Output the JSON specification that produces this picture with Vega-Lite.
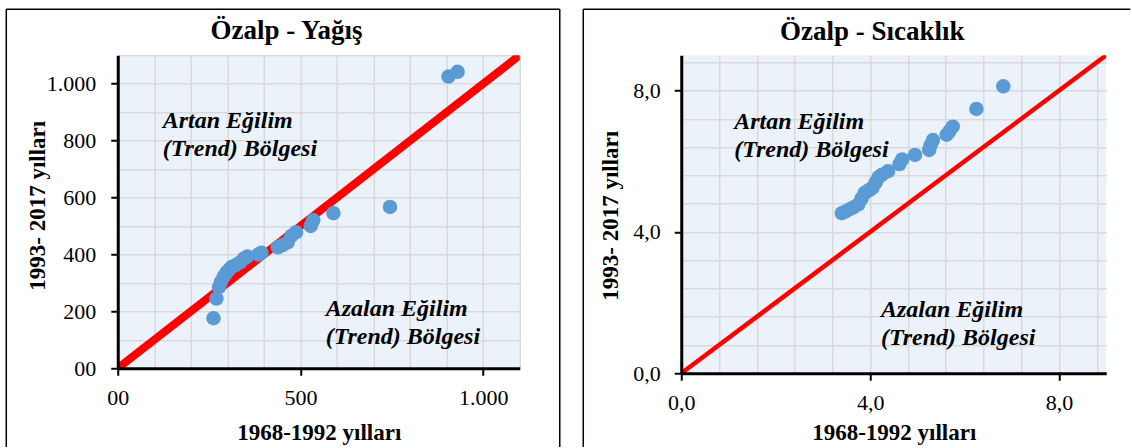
{
  "$schema": "https://vega.github.io/schema/vega-lite/v6.json",
  "background": "white",
  "padding": {"left": 4.75, "top": 8.25, "right": 0, "bottom": 0},
  "spacing": 21.5,
  "config": {
    "view": {"stroke": null, "fill": "#ecf2fa"},
    "font": "Liberation Serif",
    "axis": {"labelOverlap": false, "labelFlush": false}
  },
  "hconcat": [
    {
      "width": 402,
      "height": 313,
      "resolve": {"axis": {"x": "independent", "y": "independent"}},
      "layer": [
        {
          "data": {"values": [{"x": 0, "y": 0}, {"x": 1100, "y": 1100}]},
          "mark": {"type": "line", "color": "#ff0000", "strokeWidth": 8, "clip": true},
          "encoding": {
            "x": {
              "field": "x", "type": "quantitative",
              "scale": {"domain": [0, 1100], "nice": false, "zero": false},
              "axis": {
                "orient": "bottom", "zindex": 1,
                "values": [0, 500, 1000],
                "title": "1968-1992 yılları",
                "grid": false,
                "domainColor": "#000000", "domainWidth": 3,
                "tickColor": "#000000", "tickWidth": 2, "tickSize": 7,
                "labelExpr": "datum.value === 0 ? '00' : replace(format(datum.value, ','), ',', '.')",
                "labelFont": "Liberation Serif", "labelFontSize": 22, "labelColor": "#000000",
                "labelPadding": 12,
                "titleFont": "Liberation Serif", "titleFontSize": 23, "titleFontWeight": "bold",
                "titleColor": "#000000", "titlePadding": 13
              }
            },
            "y": {
              "field": "y", "type": "quantitative",
              "scale": {"domain": [0, 1100], "nice": false, "zero": false},
              "axis": {
                "orient": "left", "zindex": 1,
                "values": [0, 200, 400, 600, 800, 1000],
                "title": "1993- 2017 yılları",
                "grid": false,
                "domainColor": "#000000", "domainWidth": 3,
                "tickColor": "#000000", "tickWidth": 2, "tickSize": 7,
                "labelExpr": "datum.value === 0 ? '00' : replace(format(datum.value, ','), ',', '.')",
                "labelFont": "Liberation Serif", "labelFontSize": 22, "labelColor": "#000000",
                "labelPadding": 15,
                "titleFont": "Liberation Serif", "titleFontSize": 23, "titleFontWeight": "bold",
                "titleColor": "#000000", "titleAngle": 270, "titleAlign": "center", "titleBaseline": "middle",
                "titleX": -80, "titleY": 150
              }
            }
          }
        },
        {
          "data": {"values": [
            {"x": 262, "y": 176}, {"x": 270, "y": 245}, {"x": 277, "y": 285}, {"x": 282, "y": 303},
            {"x": 290, "y": 322}, {"x": 298, "y": 337}, {"x": 305, "y": 347}, {"x": 312, "y": 356},
            {"x": 322, "y": 362}, {"x": 335, "y": 372}, {"x": 345, "y": 385}, {"x": 355, "y": 393},
            {"x": 385, "y": 400}, {"x": 393, "y": 406}, {"x": 438, "y": 425}, {"x": 450, "y": 432},
            {"x": 465, "y": 442}, {"x": 475, "y": 465}, {"x": 488, "y": 478}, {"x": 528, "y": 500},
            {"x": 535, "y": 520}, {"x": 590, "y": 545}, {"x": 745, "y": 567}, {"x": 905, "y": 1025},
            {"x": 930, "y": 1042}
          ]},
          "mark": {"type": "circle", "size": 210, "color": "#5b9bd5", "opacity": 1},
          "encoding": {
            "x": {"field": "x", "type": "quantitative", "scale": {"domain": [0, 1100], "nice": false, "zero": false},
              "axis": {"orient": "bottom", "zindex": 0, "values": [100, 200, 300, 400, 500, 600, 700, 800, 900, 1000, 1100], "grid": true, "gridColor": "#d9d9d9", "gridWidth": 1.5, "labels": false, "ticks": false, "domain": false, "title": null}},
            "y": {"field": "y", "type": "quantitative", "scale": {"domain": [0, 1100], "nice": false, "zero": false},
              "axis": {"orient": "left", "zindex": 0, "values": [100, 200, 300, 400, 500, 600, 700, 800, 900, 1000, 1100], "grid": true, "gridColor": "#d9d9d9", "gridWidth": 1.5, "labels": false, "ticks": false, "domain": false, "title": null}}
          }
        },
        {
          "data": {"values": [{}]},
          "mark": {"type": "text", "align": "left", "baseline": "middle", "font": "Liberation Serif", "fontSize": 24, "fontWeight": "bold", "fontStyle": "italic", "lineBreak": "\n", "lineHeight": 28, "color": "#000000"},
          "encoding": {
            "x": {"datum": 123, "type": "quantitative", "scale": {"domain": [0, 1100], "nice": false, "zero": false}, "axis": null},
            "y": {"datum": 868, "type": "quantitative", "scale": {"domain": [0, 1100], "nice": false, "zero": false}, "axis": null},
            "text": {"value": "Artan Eğilim\n(Trend) Bölgesi"}
          }
        },
        {
          "data": {"values": [{}]},
          "mark": {"type": "text", "align": "left", "baseline": "middle", "font": "Liberation Serif", "fontSize": 24, "fontWeight": "bold", "fontStyle": "italic", "lineBreak": "\n", "lineHeight": 28, "color": "#000000"},
          "encoding": {
            "x": {"datum": 569, "type": "quantitative", "scale": {"domain": [0, 1100], "nice": false, "zero": false}, "axis": null},
            "y": {"datum": 209, "type": "quantitative", "scale": {"domain": [0, 1100], "nice": false, "zero": false}, "axis": null},
            "text": {"value": "Azalan Eğilim\n(Trend) Bölgesi"}
          }
        },
        {
          "data": {"values": [{}]},
          "mark": {"type": "text", "align": "center", "baseline": "middle", "font": "Liberation Serif", "fontSize": 27, "fontWeight": "bold", "color": "#000000"},
          "encoding": {
            "x": {"datum": 462, "type": "quantitative", "scale": {"domain": [0, 1100], "nice": false, "zero": false}, "axis": null},
            "y": {"datum": 1184, "type": "quantitative", "scale": {"domain": [0, 1100], "nice": false, "zero": false}, "axis": null},
            "text": {"value": "Özalp - Yağış"}
          }
        },
        {
          "data": {"values": [{}]},
          "mark": {"type": "rule", "color": "#000000", "strokeWidth": 1.5},
          "encoding": {
            "x": {"datum": -305, "type": "quantitative", "scale": {"domain": [0, 1100], "nice": false, "zero": false}, "axis": null},
            "y": {"datum": 1261.7, "type": "quantitative", "scale": {"domain": [0, 1100], "nice": false, "zero": false}, "axis": null},
            "y2": {"datum": -276.8}
          }
        },
        {
          "data": {"values": [{}]},
          "mark": {"type": "rule", "color": "#000000", "strokeWidth": 1.5},
          "encoding": {
            "x": {"datum": 1209.5, "type": "quantitative", "scale": {"domain": [0, 1100], "nice": false, "zero": false}, "axis": null},
            "y": {"datum": 1261.7, "type": "quantitative", "scale": {"domain": [0, 1100], "nice": false, "zero": false}, "axis": null},
            "y2": {"datum": -276.8}
          }
        },
        {
          "data": {"values": [{}]},
          "mark": {"type": "rule", "color": "#000000", "strokeWidth": 1.5},
          "encoding": {
            "x": {"datum": -305, "type": "quantitative", "scale": {"domain": [0, 1100], "nice": false, "zero": false}, "axis": null},
            "x2": {"datum": 1209.5},
            "y": {"datum": 1261.7, "type": "quantitative", "scale": {"domain": [0, 1100], "nice": false, "zero": false}, "axis": null}
          }
        }
      ]
    },
    {
      "width": 425,
      "height": 318,
      "resolve": {"axis": {"x": "independent", "y": "independent"}},
      "layer": [
        {
          "data": {"values": [{"x": 0, "y": 0}, {"x": 9, "y": 9}]},
          "mark": {"type": "line", "color": "#ff0000", "strokeWidth": 4.5, "clip": true},
          "encoding": {
            "x": {
              "field": "x", "type": "quantitative",
              "scale": {"domain": [0, 9], "nice": false, "zero": false},
              "axis": {
                "orient": "bottom", "zindex": 1,
                "values": [0, 4, 8],
                "title": "1968-1992 yılları",
                "grid": false,
                "domainColor": "#000000", "domainWidth": 3,
                "tickColor": "#000000", "tickWidth": 2, "tickSize": 7,
                "labelExpr": "replace(format(datum.value, '.1f'), '.', ',')",
                "labelFont": "Liberation Serif", "labelFontSize": 22, "labelColor": "#000000",
                "labelPadding": 12,
                "titleFont": "Liberation Serif", "titleFontSize": 23, "titleFontWeight": "bold",
                "titleColor": "#000000", "titlePadding": 8
              }
            },
            "y": {
              "field": "y", "type": "quantitative",
              "scale": {"domain": [0, 9], "nice": false, "zero": false},
              "axis": {
                "orient": "left", "zindex": 1,
                "values": [0, 4, 8],
                "title": "1993- 2017 yılları",
                "grid": false,
                "domainColor": "#000000", "domainWidth": 3,
                "tickColor": "#000000", "tickWidth": 2, "tickSize": 7,
                "labelExpr": "replace(format(datum.value, '.1f'), '.', ',')",
                "labelFont": "Liberation Serif", "labelFontSize": 22, "labelColor": "#000000",
                "labelPadding": 14,
                "titleFont": "Liberation Serif", "titleFontSize": 23, "titleFontWeight": "bold",
                "titleColor": "#000000", "titleAngle": 270, "titleAlign": "center", "titleBaseline": "middle",
                "titleX": -71, "titleY": 160
              }
            }
          }
        },
        {
          "data": {"values": [
            {"x": 3.40, "y": 4.53}, {"x": 3.48, "y": 4.58}, {"x": 3.58, "y": 4.65}, {"x": 3.65, "y": 4.70},
            {"x": 3.75, "y": 4.78}, {"x": 3.82, "y": 4.95}, {"x": 3.88, "y": 5.10}, {"x": 3.95, "y": 5.16},
            {"x": 4.00, "y": 5.20}, {"x": 4.05, "y": 5.25}, {"x": 4.12, "y": 5.40}, {"x": 4.18, "y": 5.55},
            {"x": 4.25, "y": 5.62}, {"x": 4.38, "y": 5.72}, {"x": 4.62, "y": 5.92}, {"x": 4.68, "y": 6.05},
            {"x": 4.95, "y": 6.18}, {"x": 5.25, "y": 6.32}, {"x": 5.28, "y": 6.45}, {"x": 5.33, "y": 6.60},
            {"x": 5.62, "y": 6.75}, {"x": 5.68, "y": 6.85}, {"x": 5.75, "y": 6.98}, {"x": 6.25, "y": 7.48},
            {"x": 6.82, "y": 8.12}
          ]},
          "mark": {"type": "circle", "size": 210, "color": "#5b9bd5", "opacity": 1},
          "encoding": {
            "x": {"field": "x", "type": "quantitative", "scale": {"domain": [0, 9], "nice": false, "zero": false},
              "axis": {"orient": "bottom", "zindex": 0, "values": [0.8, 1.6, 2.4, 3.2, 4, 4.8, 5.6, 6.4, 7.2, 8, 8.8], "grid": true, "gridColor": "#d9d9d9", "gridWidth": 1.5, "labels": false, "ticks": false, "domain": false, "title": null}},
            "y": {"field": "y", "type": "quantitative", "scale": {"domain": [0, 9], "nice": false, "zero": false},
              "axis": {"orient": "left", "zindex": 0, "values": [0.8, 1.6, 2.4, 3.2, 4, 4.8, 5.6, 6.4, 7.2, 8, 8.8], "grid": true, "gridColor": "#d9d9d9", "gridWidth": 1.5, "labels": false, "ticks": false, "domain": false, "title": null}}
          }
        },
        {
          "data": {"values": [{}]},
          "mark": {"type": "text", "align": "left", "baseline": "middle", "font": "Liberation Serif", "fontSize": 24, "fontWeight": "bold", "fontStyle": "italic", "lineBreak": "\n", "lineHeight": 28, "color": "#000000"},
          "encoding": {
            "x": {"datum": 1.12, "type": "quantitative", "scale": {"domain": [0, 9], "nice": false, "zero": false}, "axis": null},
            "y": {"datum": 7.12, "type": "quantitative", "scale": {"domain": [0, 9], "nice": false, "zero": false}, "axis": null},
            "text": {"value": "Artan Eğilim\n(Trend) Bölgesi"}
          }
        },
        {
          "data": {"values": [{}]},
          "mark": {"type": "text", "align": "left", "baseline": "middle", "font": "Liberation Serif", "fontSize": 24, "fontWeight": "bold", "fontStyle": "italic", "lineBreak": "\n", "lineHeight": 28, "color": "#000000"},
          "encoding": {
            "x": {"datum": 4.23, "type": "quantitative", "scale": {"domain": [0, 9], "nice": false, "zero": false}, "axis": null},
            "y": {"datum": 1.80, "type": "quantitative", "scale": {"domain": [0, 9], "nice": false, "zero": false}, "axis": null},
            "text": {"value": "Azalan Eğilim\n(Trend) Bölgesi"}
          }
        },
        {
          "data": {"values": [{}]},
          "mark": {"type": "text", "align": "center", "baseline": "middle", "font": "Liberation Serif", "fontSize": 27, "fontWeight": "bold", "color": "#000000"},
          "encoding": {
            "x": {"datum": 4.045, "type": "quantitative", "scale": {"domain": [0, 9], "nice": false, "zero": false}, "axis": null},
            "y": {"datum": 9.65, "type": "quantitative", "scale": {"domain": [0, 9], "nice": false, "zero": false}, "axis": null},
            "text": {"value": "Özalp - Sıcaklık"}
          }
        },
        {
          "data": {"values": [{}]},
          "mark": {"type": "rule", "color": "#000000", "strokeWidth": 1.5},
          "encoding": {
            "x": {"datum": -2.075, "type": "quantitative", "scale": {"domain": [0, 9], "nice": false, "zero": false}, "axis": null},
            "y": {"datum": 10.302, "type": "quantitative", "scale": {"domain": [0, 9], "nice": false, "zero": false}, "axis": null},
            "y2": {"datum": -2.087}
          }
        },
        {
          "data": {"values": [{}]},
          "mark": {"type": "rule", "color": "#000000", "strokeWidth": 1.5},
          "encoding": {
            "x": {"datum": -2.075, "type": "quantitative", "scale": {"domain": [0, 9], "nice": false, "zero": false}, "axis": null},
            "x2": {"datum": 9.509},
            "y": {"datum": 10.302, "type": "quantitative", "scale": {"domain": [0, 9], "nice": false, "zero": false}, "axis": null}
          }
        }
      ]
    }
  ]
}
